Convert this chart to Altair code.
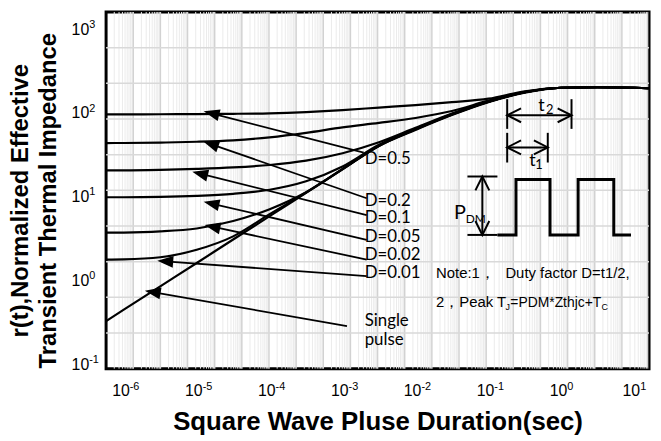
import math
import altair as alt
import pandas as pd

# ---------------- data ----------------
T = [5.72e-7, 1e-6, 3.16e-6, 1e-5, 3.16e-5, 1e-4, 3.16e-4, 1e-3, 3.16e-3,
     1e-2, 3.16e-2, 0.1, 0.316, 1.0, 3.16, 10.0, 15.8]
R_D05 = [97.8, 97.8, 98.1, 98.6, 99.2, 100.6, 104.2, 110.0, 117.8, 126.1, 136.8, 150.5, 184.6, 203.2, 206.0, 203.2, 200.4]
R_D02 = [44.4, 44.5, 45.0, 46.0, 47.9, 52.0, 58.8, 68.3, 77.2, 88.5, 107.1, 142.5, 182.0, 203.2, 206.0, 203.2, 200.4]
R_D01 = [20.9, 20.9, 21.2, 21.8, 22.7, 24.3, 27.4, 33.6, 45.4, 67.4, 100.0, 138.7, 179.5, 203.2, 206.0, 203.2, 200.4]
R_D005 = [10.0, 10.0, 10.1, 10.4, 11.0, 12.3, 15.5, 23.3, 42.4, 65.5, 98.6, 138.7, 179.5, 203.2, 206.0, 203.2, 200.4]
R_D002 = [3.78, 3.79, 3.91, 4.24, 5.20, 7.21, 11.5, 21.8, 41.3, 64.7, 97.3, 138.7, 179.5, 203.2, 206.0, 203.2, 200.4]
R_D001 = [1.80, 1.81, 1.92, 2.36, 3.41, 6.29, 11.4, 21.7, 41.3, 64.7, 97.3, 138.7, 179.5, 203.2, 206.0, 203.2, 200.4]
R_SINGLE = [0.332, 0.454, 0.863, 1.64, 3.13, 5.94, 11.3, 21.5, 41.0, 63.8, 96.0, 136.8, 177.0, 203.2, 206.0, 203.2, 200.4]
SERIES = ["D=0.5", "D=0.2", "D=0.1", "D=0.05", "D=0.02", "D=0.01", "Single pulse"]
CURVES = [R_D05, R_D02, R_D01, R_D005, R_D002, R_D001, R_SINGLE]

# annotation arrows: arrowhead end (0) and label end (1)
ARROW_T0 = [1.59e-5, 1.56e-5, 1.11e-5, 1.59e-5, 1.64e-5, 3.70e-6, 2.49e-6]
ARROW_R0 = [100.5, 43.2, 19.1, 8.42, 4.45, 1.72, 0.737]
ARROW_T1 = [1.95e-3, 2.14e-3, 2.14e-3, 2.14e-3, 2.14e-3, 2.14e-3, 1.15e-3]
ARROW_R1 = [34.1, 9.73, 6.12, 3.10, 1.80, 1.14, 0.289]

LABEL_TEXT = ["D=0.5", "D=0.2", "D=0.1", "D=0.05", "D=0.02", "D=0.01", "Single", "pulse"]
LABEL_T = [2.01e-3] * 8
LABEL_R = [28.9, 8.97, 5.64, 3.36, 2.06, 1.26, 0.332, 0.198]

# pulse diagram (inset)
PULSE_T = [0.133, 0.239, 0.239, 0.700, 0.700, 1.70, 1.70, 5.24, 5.24, 9.03]
PULSE_R = [3.55, 3.55, 16.3, 16.3, 3.55, 3.55, 16.3, 16.3, 3.55, 3.55]
SEG_T0 = [0.181, 1.38, 0.181, 0.181, 0.652, 0.181, 0.0516, 0.0516, 0.0826]
SEG_R0 = [148.4, 148.4, 95.2, 58.8, 58.8, 39.4, 17.7, 3.55, 17.7]
SEG_T1 = [0.181, 1.38, 1.38, 0.181, 0.652, 0.652, 0.133, 0.133, 0.0826]
SEG_R1 = [65.6, 65.6, 95.2, 26.0, 26.0, 39.4, 17.7, 3.55, 3.55]
CHEV_T = [0.181, 1.38, 0.181, 0.652, 0.0826, 0.0826]
CHEV_R = [95.2, 95.2, 39.4, 39.4, 17.7, 3.55]
CHEV_DIR = [0, 180, 0, 180, 90, 270]
INSET_TEXT = ["t", "2", "t", "1", "P", "DM"]
INSET_T = [0.481, 0.618, 0.363, 0.4375, 0.0337, 0.0490]
INSET_R = [107.1, 98.6, 23.9, 22.0, 5.49, 4.92]
INSET_SIZE = [18, 13, 18, 13, 20, 12]

NOTE_T = 0.01914
NOTE_R1 = 1.10
NOTE_R2 = 0.486

X_TICKS = [1e-6, 1e-5, 1e-4, 1e-3, 1e-2, 1e-1, 1, 10]
X_TICK_EXP = ["-6", "-5", "-4", "-3", "-2", "-1", "0", "1"]
Y_TICKS = [0.1, 1, 10, 100, 1000]
Y_TICK_EXP = ["-1", "0", "1", "2", "3"]

# grid (drawn in its own cell space: 20 columns x 10 rows)
GRID_MAJOR_X = list(range(1, 20))
GRID_MINOR_OFFSETS = [0.301, 0.477, 0.602, 0.699, 0.778, 0.845, 0.903, 0.954]
GRID_Y = list(range(1, 10))

# ---------------- chart ----------------
W, H = 548, 360
X_DOMAIN = [5.715e-7, 15.96]
Y_DOMAIN = [0.08974, 1633.0]
FONT = "Liberation Sans"
LFONT = "Lato"

LX0, LX1 = math.log10(X_DOMAIN[0]), math.log10(X_DOMAIN[1])
LY0, LY1 = math.log10(Y_DOMAIN[0]), math.log10(Y_DOMAIN[1])


def px(t):
    return W * (math.log10(t) - LX0) / (LX1 - LX0)


def py(r):
    return H * (LY1 - math.log10(r)) / (LY1 - LY0)


XS = alt.Scale(type="log", domain=X_DOMAIN)
YS = alt.Scale(type="log", domain=Y_DOMAIN)

AX_X = alt.Axis(values=X_TICKS, labels=False, grid=False, ticks=False, tickSize=0,
                domain=False,
                title="Square Wave Pluse Duration(sec)", titleFont=FONT, titleFontSize=26,
                titleFontWeight="bold", titleColor="black", titleX=274, titleY=53,
                titleBaseline="middle", titleAlign="center")
AX_Y = alt.Axis(values=Y_TICKS, labels=False, grid=False, ticks=False, tickSize=0,
                domain=False,
                title=["r(t),Normalized Effective", "Transient Thermal Impedance"],
                titleFont=FONT, titleFontSize=24, titleFontWeight="bold", titleColor="black",
                titleX=-86, titleY=190, titleBaseline="middle", titleAlign="center",
                titleAngle=270, titleLineHeight=28)


def xq(f):
    return alt.X(f, type="quantitative", scale=XS, axis=AX_X)


def yq(f):
    return alt.Y(f, type="quantitative", scale=YS, axis=AX_Y)


# grid layer
gx = alt.Scale(domain=[0, 20])
gy = alt.Scale(domain=[0, 10])
minor_vals = [k + m for k in range(20) for m in GRID_MINOR_OFFSETS]
g_minor = alt.Chart(pd.DataFrame({"g": minor_vals})).mark_rule(
    color="#ebebeb", strokeWidth=1).encode(x=alt.X("g:Q", scale=gx, axis=None))
g_major = alt.Chart(pd.DataFrame({"g": GRID_MAJOR_X})).mark_rule(
    color="#d2d2d2", strokeWidth=1.5).encode(x=alt.X("g:Q", scale=gx, axis=None))
g_h = alt.Chart(pd.DataFrame({"h": GRID_Y})).mark_rule(
    color="#d9d9d9", strokeWidth=1.5).encode(y=alt.Y("h:Q", scale=gy, axis=None))
grid = alt.layer(g_minor, g_major, g_h)

# tick labels: "10" plus a raised exponent
xt = pd.DataFrame({"t": X_TICKS, "e": X_TICK_EXP, "b": ["10"] * len(X_TICKS)})
yt = pd.DataFrame({"r": Y_TICKS, "e": Y_TICK_EXP, "b": ["10"] * len(Y_TICKS)})
xlab_base = alt.Chart(xt).mark_text(font=FONT, fontSize=16, align="right", baseline="top",
                                    dx=6, color="black").encode(
    x=xq("t"), y=alt.value(H + 15), text="b:N")
xlab_exp = alt.Chart(xt).mark_text(font=FONT, fontSize=11, align="left", baseline="top",
                                   dx=6, color="black").encode(
    x=xq("t"), y=alt.value(H + 13), text="e:N")
ylab_base = alt.Chart(yt).mark_text(font=FONT, fontSize=16, align="right", baseline="middle",
                                    color="black").encode(
    x=alt.value(-17), y=yq("r"), text="b:N")
ylab_exp = alt.Chart(yt).mark_text(font=FONT, fontSize=11, align="left", baseline="middle",
                                   dy=-5, color="black").encode(
    x=alt.value(-17), y=yq("r"), text="e:N")

# curves
rows = []
for name, vals in zip(SERIES, CURVES):
    for t, r in zip(T, vals):
        rows.append({"t": t, "r": r, "s": name})
curves = alt.Chart(pd.DataFrame(rows)).mark_line(
    color="black", strokeWidth=2.2, interpolate="monotone").encode(
    x=xq("t"), y=yq("r"), detail="s:N")

# annotation arrows
arr = pd.DataFrame({"t0": ARROW_T0, "r0": ARROW_R0, "t1": ARROW_T1, "r1": ARROW_R1})
arr["ang"] = [
    (math.degrees(math.atan2(px(a) - px(c), -(py(b) - py(d))))) % 360
    for a, b, c, d in zip(ARROW_T0, ARROW_R0, ARROW_T1, ARROW_R1)
]
arrow_lines = alt.Chart(arr).mark_rule(color="black", strokeWidth=1.8).encode(
    x=xq("t0"), y=yq("r0"), x2="t1", y2="r1")
arrow_heads = alt.Chart(arr).mark_point(
    shape="M0,-1L0.75,1L-0.75,1Z", filled=True, size=256, color="black", opacity=1).encode(
    x=xq("t0"), y=yq("r0"), angle=alt.Angle("ang:Q", scale=None))

labels = alt.Chart(pd.DataFrame({"t": LABEL_T, "r": LABEL_R, "s": LABEL_TEXT})).mark_text(
    font=LFONT, fontSize=17, align="left", baseline="middle", color="black").encode(
    x=xq("t"), y=yq("r"), text="s:N")

# inset diagram
pulse = alt.Chart(pd.DataFrame({"t": PULSE_T, "r": PULSE_R, "i": list(range(len(PULSE_T)))})).mark_line(
    color="black", strokeWidth=3, strokeJoin="miter").encode(
    x=xq("t"), y=yq("r"), order=alt.Order("i:Q"))
segs = alt.Chart(pd.DataFrame({"t0": SEG_T0, "r0": SEG_R0, "t1": SEG_T1, "r1": SEG_R1})).mark_rule(
    color="black", strokeWidth=2).encode(x=xq("t0"), y=yq("r0"), x2="t1", y2="r1")
chev = alt.Chart(pd.DataFrame({"t": CHEV_T, "r": CHEV_R, "a": CHEV_DIR})).mark_point(
    shape="M2,-1L0,0L2,1", filled=False, size=196, color="black", strokeWidth=2, opacity=1).encode(
    x=xq("t"), y=yq("r"), angle=alt.Angle("a:Q", scale=None))

inset_layers = []
for s, t, r, fs in zip(INSET_TEXT, INSET_T, INSET_R, INSET_SIZE):
    inset_layers.append(
        alt.Chart(pd.DataFrame({"t": [t], "r": [r], "s": [s]})).mark_text(
            font=LFONT, fontSize=fs, align="left", baseline="alphabetic", color="black").encode(
            x=xq("t"), y=yq("r"), text="s:N"))


def note(text, r, dx, dy, fs):
    return alt.Chart(pd.DataFrame({"t": [NOTE_T], "r": [r], "s": [text]})).mark_text(
        font=FONT, fontSize=fs, align="left", baseline="alphabetic", color="black",
        dx=dx, dy=dy).encode(x=xq("t"), y=yq("r"), text="s:N")


notes = [
    note("Note:1，", NOTE_R1, 0, 0, 15),
    note("Duty factor D=t1/2,", NOTE_R1, 70, 0, 15),
    note("2，Peak T", NOTE_R2, 0, 0, 15),
    note("J", NOTE_R2, 70, 3, 9),
    note("=PDM*Zthjc+T", NOTE_R2, 75, 0, 14),
    note("C", NOTE_R2, 167, 3, 9),
]

main = alt.layer(curves, arrow_lines, arrow_heads, labels, pulse, segs, chev,
                 *inset_layers, *notes, xlab_base, xlab_exp, ylab_base, ylab_exp)

chart = alt.layer(grid, main).resolve_scale(x="independent", y="independent").properties(
    width=W, height=H,
    padding={"left": 99, "top": 2, "right": 4, "bottom": 70},
    autosize=alt.AutoSizeParams(type="none"),
).configure_view(stroke="black", strokeWidth=3)

chart.save("out.html", embed_options={"renderer": "svg", "actions": False})
